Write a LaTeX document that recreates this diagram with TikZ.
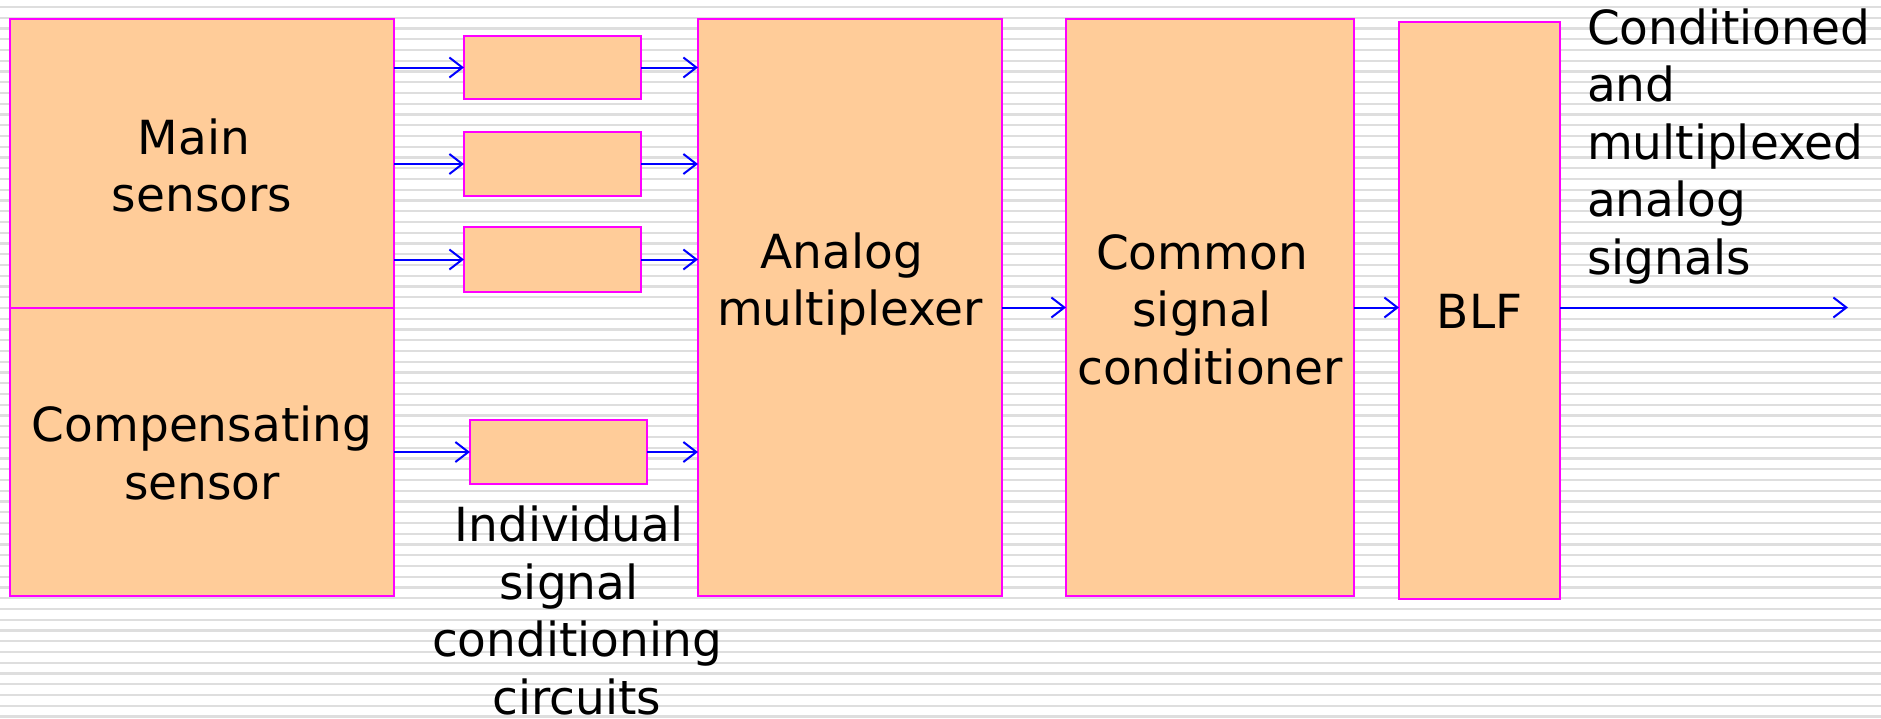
\documentclass[tikz,border=0pt]{standalone}
\usepackage{fontspec}
\setmainfont{DejaVu Sans}
\usetikzlibrary{arrows.meta}
\definecolor{peach}{HTML}{FFCC99}
\definecolor{mag}{HTML}{FF00FF}
\definecolor{blu}{HTML}{0000FF}
\definecolor{stripe}{HTML}{DEDEDE}
\newcommand{\fl}{\rule{0pt}{37pt}}
\newcommand{\ts}{\kern16pt}
\begin{document}
\begin{tikzpicture}[x=1pt,y=-1pt,
  box/.style={rectangle, draw=mag, fill=peach, line width=1.8pt, inner sep=0pt, outer sep=0pt},
  txt/.style={font=\fontsize{47}{57.5}\selectfont, align=center, inner sep=0pt, outer sep=0pt, anchor=north},
  arr/.style={draw=blu, line width=2pt, -{Straight Barb[length=13pt,width=20pt]}},
  stripeline/.style={draw=stripe, line width=2.2pt}]
\useasboundingbox (0,0) rectangle (1881,718);
\fill[white] (0,0) rectangle (1881,718);
\foreach \i in {0,...,66} \draw[stripeline] (0,{7+\i*10.75}) -- (1881,{7+\i*10.75});
% boxes
\node[box, line width=2pt, minimum width=384pt, minimum height=289pt] (main) at (202,163.5) {};
\node[box, line width=2pt, minimum width=384pt, minimum height=288pt] (comp) at (202,452) {};
\node[box, line width=2pt, minimum width=177pt, minimum height=63pt] (b1) at (552.5,67.5) {};
\node[box, line width=2pt, minimum width=177pt, minimum height=64pt] (b2) at (552.5,164) {};
\node[box, line width=2pt, minimum width=177pt, minimum height=65pt] (b3) at (552.5,259.5) {};
\node[box, line width=2pt, minimum width=177pt, minimum height=64pt] (b4) at (558.5,452) {};
\node[box, minimum width=304pt, minimum height=577pt] (mux) at (850,307.5) {};
\node[box, minimum width=288pt, minimum height=577pt] (csc) at (1210,307.5) {};
\node[box, minimum width=161pt, minimum height=577pt] (blf) at (1479.5,310.5) {};
% texts
\node[txt] (tmain) at (202,117.3) {\fl Main\ts\\sensors};
\node[txt] (tcomp) at (202,404.7) {\fl Compensating\\sensor};
\node[txt] (tmux) at (850,231.3) {\fl Analog\ts\\multiplexer};
\node[txt] (tcsc) at (1210,232) {\fl Common\ts\\signal\ts\\conditioner};
\node[txt] (tblf) at (1479.5,291) {\fl BLF};
\node[txt] (tind) at (577,504.7) {\fl Individual\ts\\signal\ts\\conditioning\\circuits};
\node[txt, align=left, anchor=north west] (tout) at (1587,7.3) {\fl Conditioned\\and\\multiplexed\\analog\\signals};
% connectors
\draw[arr] (main.east |- b1.west) -- (b1.west);
\draw[arr] (main.east |- b2.west) -- (b2.west);
\draw[arr] (main.east |- b3.west) -- (b3.west);
\draw[arr] (comp.east |- b4.west) -- (b4.west);
\draw[arr] (b1.east) -- (b1.east -| mux.west);
\draw[arr] (b2.east) -- (b2.east -| mux.west);
\draw[arr] (b3.east) -- (b3.east -| mux.west);
\draw[arr] (b4.east) -- (b4.east -| mux.west);
\draw[arr] (mux.east) -- (csc.west);
\draw[arr] (csc.east) -- (csc.east -| blf.west);
\coordinate (out) at (1848,307.5);
\draw[arr] (blf.east |- out) -- (out);
\end{tikzpicture}
\end{document}
